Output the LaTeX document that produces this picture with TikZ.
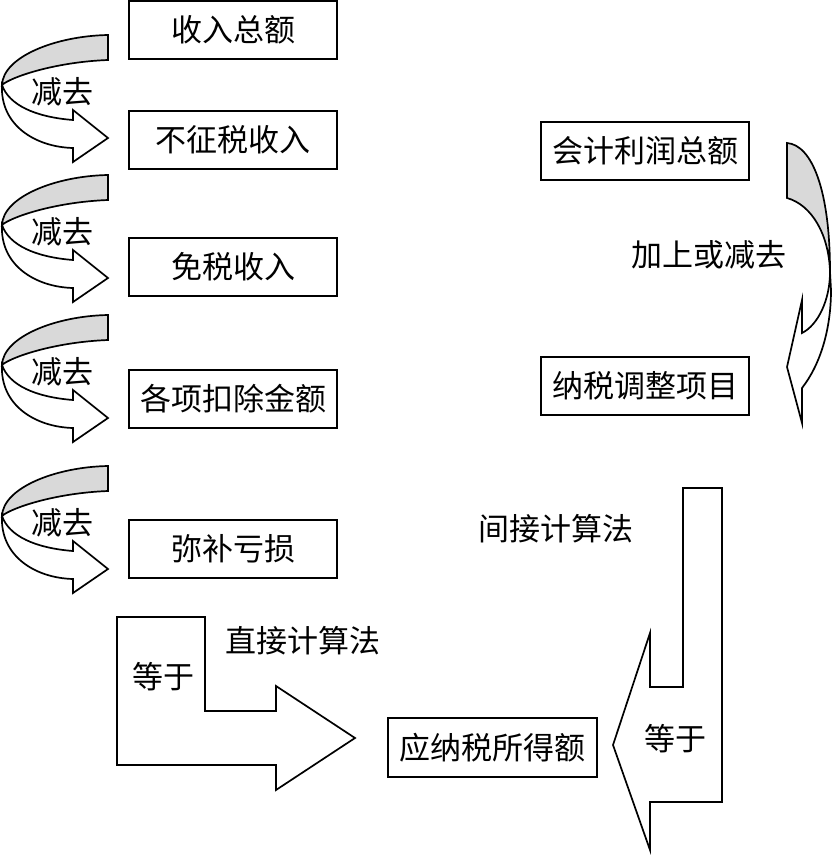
\documentclass[tikz,border=0pt]{standalone}
\usepackage{fontspec}
\newfontfamily\cjk{Noto Sans CJK SC}
\definecolor{backgray}{RGB}{217,217,217}
\tikzset{
  box/.style={draw, line width=1.8pt, minimum width=208pt, minimum height=58pt, inner sep=0pt, font=\cjk\fontsize{31}{35}\selectfont},
  lbl/.style={inner sep=0pt, font=\cjk\fontsize{31}{35}\selectfont},
  shp/.style={draw, line width=1.7pt, line join=miter, fill=white},
  back/.style={draw, line width=1.7pt, fill=backgray}
}
\newcommand\leftcurve[2]{%
\begin{scope}[shift={(0,#1)}]
\path[back] (108,0) .. controls (55,1) and (3,22) .. (2,50) .. controls (11,42) and (55,27) .. (108,25) -- cycle;
\path[shp] (2,50) .. controls (0,90) and (35,112) .. (73,113) -- (73,127) -- (108,103) -- (73,75) -- (73,85) .. controls (35,82) and (9,70) .. (2,50) -- cycle;
\node[lbl] (#2) at (62,57) {减去};
\end{scope}}
\begin{document}
\begin{tikzpicture}[x=1pt,y=-1pt]
\useasboundingbox (0,0) rectangle (831,861);
% left column boxes
\node[box] (b1) at (233,30) {收入总额};
\node[box] (b2) at (233,140) {不征税收入};
\node[box] (b3) at (233,267) {免税收入};
\node[box] (b4) at (233,399) {各项扣除金额};
\node[box] (b5) at (233,549) {弥补亏损};
% right boxes
\node[box] (r1) at (645,151) {会计利润总额};
\node[box] (r2) at (645,386) {纳税调整项目};
\node[box, minimum width=209pt, minimum height=59pt] (res) at (492.5,747.5) {应纳税所得额};
% curved arrows on the left
\leftcurve{35}{m1}
\leftcurve{175}{m2}
\leftcurve{315}{m3}
\leftcurve{466}{m4}
% right curved arrow
\path[back] (787,143) .. controls (812,145) and (830,190) .. (830,272) .. controls (829,235) and (812,205) .. (787,198) -- cycle;
\path[shp] (830,272) .. controls (830,300) and (818,325) .. (802,333) -- (802,300) -- (787,367) -- (802,423) -- (802,388) .. controls (820,365) and (831,330) .. (831,290) -- cycle;
\node[lbl] (adj) at (709,255) {加上或减去};
% direct method bent arrow
\path[shp] (117,617) -- (205,617) -- (205,711) -- (276,711) -- (276,686) -- (355,738) -- (276,790) -- (276,765) -- (117,765) -- cycle;
\node[lbl] (eq1) at (163,677) {等于};
\node[lbl] (direct) at (303,641) {直接计算法};
% indirect method bent arrow
\path[shp] (683,488) -- (722,488) -- (722,802) -- (650,802) -- (650,850) -- (613,745) -- (650,633) -- (650,687) -- (683,687) -- cycle;
\node[lbl] (eq2) at (675,739) {等于};
\node[lbl] (indirect) at (556,529) {间接计算法};
\end{tikzpicture}
\end{document}
